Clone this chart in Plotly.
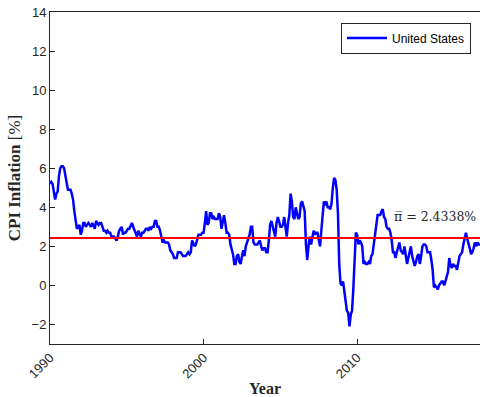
import plotly.graph_objects as go

# Monthly year-on-year CPI inflation, United States, Jan 1990 - Jan 2018 (percent)
start_year = 1990
cpi_inflation = [
    5.2, 5.3, 5.2, 4.7, 4.4, 4.7, 4.8, 5.6, 6.0, 6.1, 6.1, 6.0,   # 1990
    5.6, 5.2, 4.9, 4.9, 4.9, 4.7, 4.4, 3.8, 3.4, 2.9, 3.0, 3.1,   # 1991
    2.6, 2.8, 3.2, 3.2, 3.0, 3.1, 3.2, 3.1, 3.0, 3.2, 3.0, 2.9,   # 1992
    3.3, 3.2, 3.1, 3.2, 3.2, 3.0, 2.8, 2.8, 2.7, 2.8, 2.7, 2.7,   # 1993
    2.5, 2.5, 2.5, 2.4, 2.3, 2.5, 2.8, 2.9, 3.0, 2.6, 2.7, 2.7,   # 1994
    2.8, 2.9, 2.9, 3.1, 3.2, 3.0, 2.8, 2.6, 2.5, 2.8, 2.6, 2.5,   # 1995
    2.7, 2.7, 2.8, 2.9, 2.9, 2.8, 3.0, 2.9, 3.0, 3.0, 3.3, 3.3,   # 1996
    3.0, 3.0, 2.8, 2.5, 2.2, 2.3, 2.2, 2.2, 2.2, 2.1, 1.8, 1.7,   # 1997
    1.6, 1.4, 1.4, 1.4, 1.7, 1.7, 1.7, 1.6, 1.5, 1.5, 1.5, 1.6,   # 1998
    1.7, 1.6, 1.7, 2.3, 2.1, 2.0, 2.1, 2.3, 2.6, 2.6, 2.6, 2.7,   # 1999
    2.7, 3.2, 3.8, 3.1, 3.2, 3.7, 3.7, 3.4, 3.5, 3.4, 3.4, 3.4,   # 2000
    3.7, 3.5, 2.9, 3.3, 3.6, 3.2, 2.7, 2.7, 2.6, 2.1, 1.9, 1.6,   # 2001
    1.1, 1.1, 1.5, 1.6, 1.2, 1.1, 1.5, 1.8, 1.5, 2.0, 2.2, 2.4,   # 2002
    2.6, 3.0, 3.0, 2.2, 2.1, 2.1, 2.1, 2.2, 2.3, 2.0, 1.8, 1.9,   # 2003
    1.9, 1.7, 1.7, 2.3, 3.1, 3.3, 3.0, 2.7, 2.5, 3.2, 3.5, 3.3,   # 2004
    3.0, 3.0, 3.1, 3.5, 2.8, 2.5, 3.2, 3.6, 4.7, 4.3, 3.5, 3.4,   # 2005
    4.0, 3.6, 3.4, 3.5, 4.2, 4.3, 4.1, 3.8, 2.1, 1.3, 2.0, 2.5,   # 2006
    2.1, 2.4, 2.8, 2.6, 2.7, 2.7, 2.4, 2.0, 2.8, 3.5, 4.3, 4.1,   # 2007
    4.3, 4.0, 4.0, 3.9, 4.2, 5.0, 5.5, 5.4, 4.9, 3.7, 1.1, 0.1,   # 2008
    0.0, 0.2, -0.4, -0.7, -1.3, -1.4, -2.1, -1.5, -1.3, -0.2, 1.8, 2.7,  # 2009
    2.6, 2.1, 2.3, 2.2, 2.0, 1.1, 1.2, 1.1, 1.1, 1.2, 1.1, 1.5,   # 2010
    1.6, 2.1, 2.7, 3.2, 3.6, 3.6, 3.6, 3.8, 3.9, 3.5, 3.4, 3.0,   # 2011
    2.9, 2.9, 2.7, 2.3, 1.7, 1.7, 1.4, 1.7, 2.0, 2.2, 1.8, 1.7,   # 2012
    1.6, 2.0, 1.5, 1.1, 1.4, 1.8, 2.0, 1.5, 1.2, 1.0, 1.2, 1.5,   # 2013
    1.6, 1.1, 1.5, 2.0, 2.1, 2.1, 2.0, 1.7, 1.7, 1.7, 1.3, 0.8,   # 2014
    -0.1, 0.0, -0.1, -0.2, 0.0, 0.1, 0.2, 0.2, 0.0, 0.2, 0.5, 0.7,  # 2015
    1.4, 1.0, 0.9, 1.1, 1.0, 1.0, 0.8, 1.1, 1.5, 1.6, 1.7, 2.1,   # 2016
    2.5, 2.7, 2.4, 2.2, 1.9, 1.6, 1.7, 1.9, 2.2, 2.0, 2.2, 2.1,   # 2017
    2.1,                                                          # 2018
]
dates = [start_year + i / 12 for i in range(len(cpi_inflation))]

mean_inflation = 2.4338
country = "United States"
x_ticks = [1990, 2000, 2010]
y_ticks = list(range(-2, 15, 2))

axis_color = "#262626"
tick_font = dict(family="Liberation Sans, Arial, sans-serif", size=13, color=axis_color)
serif = "Liberation Serif, Times New Roman, serif"

fig = go.Figure()
fig.add_trace(go.Scatter(
    x=dates, y=cpi_inflation, mode="lines", name=country,
    line=dict(color="#0000ff", width=2.5),
))
fig.add_trace(go.Scatter(
    x=[1990, 2018], y=[mean_inflation, mean_inflation], mode="lines",
    line=dict(color="#ff0000", width=2), showlegend=False, hoverinfo="skip",
))

# mean label: pi with an overline, drawn in a font that carries the combining mark
fig.add_annotation(
    x=2015.1, y=3.55, xref="x", yref="y",
    text=f"\u03c0\u0305 = {mean_inflation:.4f}%",
    showarrow=False, font=dict(family="DejaVu Serif", size=12.5, color=axis_color),
)

fig.update_layout(
    width=480, height=397,
    margin=dict(l=50, r=0, t=12, b=53),
    paper_bgcolor="white", plot_bgcolor="white",
    showlegend=True,
    legend=dict(
        x=0.979, y=0.968, xanchor="right", yanchor="top",
        bgcolor="white", bordercolor=axis_color, borderwidth=1,
        font=dict(family="Liberation Sans, Arial, sans-serif", size=12, color="black"),
        itemwidth=40,
    ),
    xaxis=dict(
        range=[1990, 2018], tickvals=x_ticks, tickangle=-45,
        ticks="inside", ticklen=5, tickcolor=axis_color,
        showline=True, linecolor=axis_color, linewidth=1, mirror=True,
        showgrid=False, zeroline=False, tickfont=tick_font,
        title=dict(text="<b>Year</b>", font=dict(family=serif, size=16, color=axis_color), standoff=5),
    ),
    yaxis=dict(
        range=[-3, 14], tickvals=y_ticks,
        ticks="inside", ticklen=5, tickcolor=axis_color,
        showline=True, linecolor=axis_color, linewidth=1, mirror=False,
        showgrid=False, zeroline=False, tickfont=tick_font,
        title=dict(text="<b>CPI Inflation</b> [%]", font=dict(family=serif, size=17, color=axis_color), standoff=6),
    ),
)

fig.write_html("out.html")
